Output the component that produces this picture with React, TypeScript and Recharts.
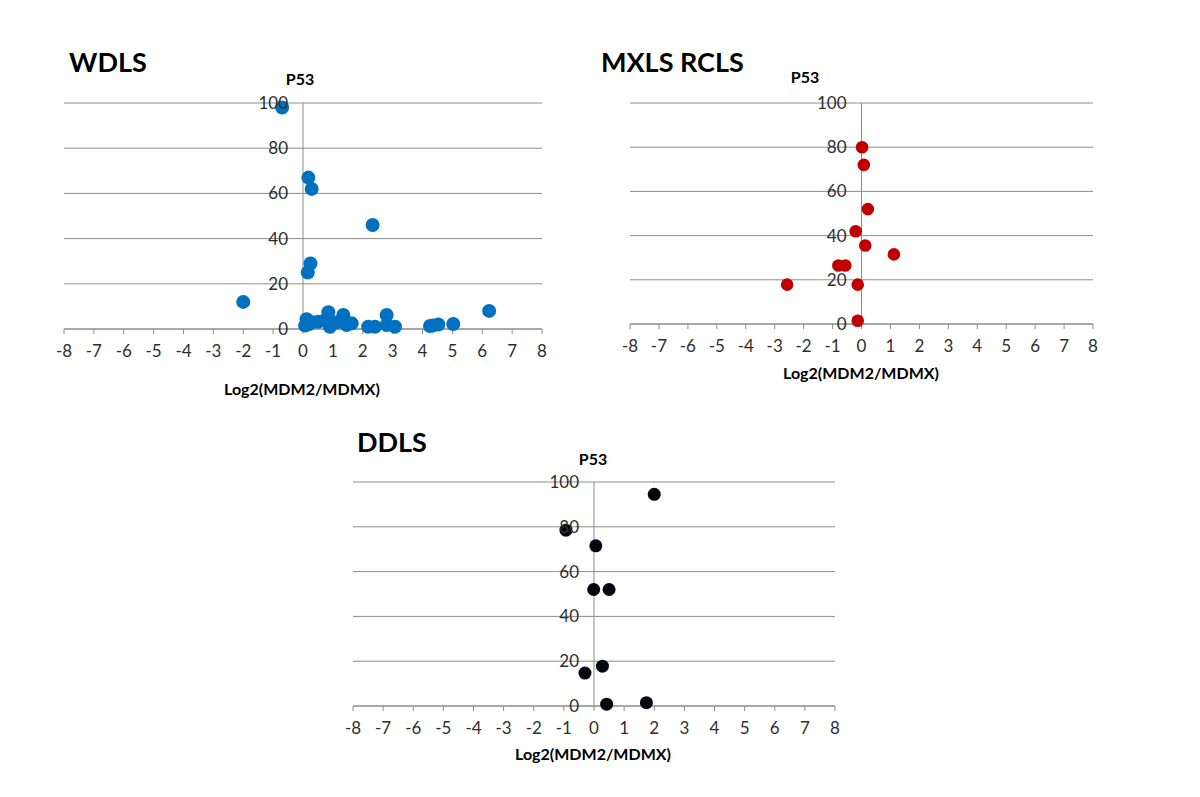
import React from "react";
import { ScatterChart, Scatter, XAxis, YAxis, CartesianGrid, ReferenceLine } from "recharts";

// values
const wdlsPoints = [
  { x: -0.7, y: 98 }, { x: 0.18, y: 67 }, { x: 0.29, y: 62 }, { x: 2.33, y: 46 },
  { x: 0.25, y: 29 }, { x: 0.16, y: 25 }, { x: -2.0, y: 12 }, { x: 6.23, y: 8 },
  { x: 0.12, y: 4.3 }, { x: 0.07, y: 1.5 }, { x: 0.2, y: 2.2 }, { x: 0.3, y: 3 },
  { x: 0.51, y: 3.2 }, { x: 0.85, y: 7.4 }, { x: 0.9, y: 1 }, { x: 0.75, y: 4 },
  { x: 1.13, y: 3 }, { x: 1.35, y: 6.2 }, { x: 1.46, y: 1.8 }, { x: 1.63, y: 2.5 },
  { x: 2.18, y: 1 }, { x: 2.41, y: 1 }, { x: 2.8, y: 6.2 }, { x: 2.8, y: 1.8 },
  { x: 3.08, y: 1 }, { x: 4.25, y: 1.3 }, { x: 4.35, y: 1.5 }, { x: 4.53, y: 2 },
  { x: 5.03, y: 2.2 },
];

const mxlsPoints = [
  { x: 0.02, y: 80 }, { x: 0.08, y: 72 }, { x: 0.22, y: 52 }, { x: -0.2, y: 42 },
  { x: 0.13, y: 35.5 }, { x: 1.12, y: 31.5 }, { x: -0.8, y: 26.5 }, { x: -0.56, y: 26.5 },
  { x: -2.57, y: 17.8 }, { x: -0.13, y: 17.8 }, { x: -0.13, y: 1.5 },
];

const ddlsPoints = [
  { x: 2.0, y: 94.5 }, { x: -0.93, y: 78.5 }, { x: 0.06, y: 71.5 }, { x: -0.01, y: 52 },
  { x: 0.5, y: 52 }, { x: 0.28, y: 17.8 }, { x: -0.3, y: 14.7 }, { x: 0.42, y: 0.8 },
  { x: 1.74, y: 1.5 },
];

const xTicks = [-8, -7, -6, -5, -4, -3, -2, -1, 0, 1, 2, 3, 4, 5, 6, 7, 8];
const yTicks = [0, 20, 40, 60, 80, 100];

const titles = ["WDLS", "MXLS RCLS", "DDLS"];
const yTitle = "P53";
const xTitle = "Log2(MDM2/MDMX)";

const FONT = "Lato, 'Open Sans', sans-serif";
const GRID = "#8c8c8c";
const TICK = "#2e2e2e";

type Pt = { x: number; y: number };

function Panel({ data, color, r, left, top, width, height, margin }: {
  data: Pt[]; color: string; r: number; left: number; top: number; width: number; height: number;
  margin: { top: number; right: number; bottom: number; left: number };
}) {
  const plotW = width - margin.left - margin.right;
  const zeroX = margin.left + plotW / 2;
  return (
    <div style={{ position: "absolute", left, top }}>
      <ScatterChart width={width} height={height} margin={margin}>
        <CartesianGrid vertical={false} stroke={GRID} strokeWidth={1} />
        <XAxis
          type="number"
          dataKey="x"
          domain={[-8, 8]}
          ticks={xTicks}
          interval={0}
          allowDataOverflow
          height={40}
          tickSize={5}
          tickMargin={11}
          axisLine={{ stroke: GRID }}
          tickLine={{ stroke: GRID }}
          tick={{ fontSize: 17, fill: TICK, fontFamily: FONT }}
        />
        <YAxis
          type="number"
          dataKey="y"
          domain={[0, 100]}
          ticks={yTicks}
          interval={0}
          mirror
          axisLine={false}
          tickLine={false}
          tick={(p: any) => (
            <text x={zeroX - 15} y={p.y} dy="0.35em" textAnchor="end" fontSize={17} fill={TICK} fontFamily={FONT}>
              {p.payload.value}
            </text>
          )}
        />
        <ReferenceLine x={0} stroke={GRID} strokeWidth={1} />
        <Scatter
          data={data}
          isAnimationActive={false}
          shape={(p: any) => <circle cx={p.cx} cy={p.cy} r={r} fill={color} />}
        />
      </ScatterChart>
    </div>
  );
}

export default function App() {
  return (
    <div style={{ position: "absolute", left: 0, top: 0, width: 1200, height: 797, background: "#fff", fontFamily: FONT }}>
      <Panel data={wdlsPoints} color="#0070c0" r={7} left={40} top={90} width={520} height={330}
        margin={{ top: 13, right: 18, bottom: 51, left: 24 }} />
      <Panel data={mxlsPoints} color="#c00000" r={6.3} left={600} top={90} width={520} height={330}
        margin={{ top: 13, right: 27, bottom: 56, left: 30 }} />
      <Panel data={ddlsPoints} color="#05050f" r={6.5} left={320} top={470} width={540} height={320}
        margin={{ top: 12, right: 25, bottom: 44, left: 33 }} />
      <svg width={1200} height={797} style={{ position: "absolute", left: 0, top: 0, pointerEvents: "none" }}>
        <g fontFamily={FONT} fill="#000">
          <text x={69} y={72} fontSize={27} fontWeight="bold">{titles[0]}</text>
          <text x={601} y={72} fontSize={27} fontWeight="bold">{titles[1]}</text>
          <text x={357} y={452} fontSize={27} fontWeight="bold">{titles[2]}</text>
          <text x={300} y={85} fontSize={16} fontWeight="bold" textAnchor="middle">{yTitle}</text>
          <text x={805} y={83} fontSize={16} fontWeight="bold" textAnchor="middle">{yTitle}</text>
          <text x={593} y={465} fontSize={16} fontWeight="bold" textAnchor="middle">{yTitle}</text>
          <text x={302} y={395} fontSize={16} fontWeight="bold" textAnchor="middle">{xTitle}</text>
          <text x={861} y={379} fontSize={16} fontWeight="bold" textAnchor="middle">{xTitle}</text>
          <text x={593} y={760} fontSize={16} fontWeight="bold" textAnchor="middle">{xTitle}</text>
        </g>
      </svg>
    </div>
  );
}
